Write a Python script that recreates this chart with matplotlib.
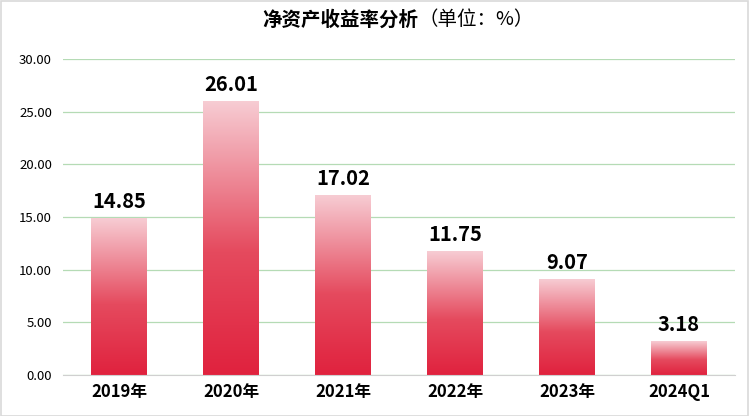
import numpy as np
import matplotlib.pyplot as plt
from matplotlib.colors import LinearSegmentedColormap
from matplotlib.patches import Rectangle

plt.rcParams['font.family'] = ['Noto Sans CJK SC', 'DejaVu Sans']

categories = ['2019年', '2020年', '2021年', '2022年', '2023年', '2024Q1']
values = [14.85, 26.01, 17.02, 11.75, 9.07, 3.18]
yticks = [0, 5, 10, 15, 20, 25, 30]

fig = plt.figure(figsize=(7.49, 4.16), dpi=100)
ax = fig.add_axes([63 / 749, 41 / 416, 672 / 749, 316 / 416])

cmap = LinearSegmentedColormap.from_list(
    'bar', [(0, '#e0223e'), (0.45, '#e54a5e'), (1, '#f7ccd3')])
grad = np.linspace(0, 1, 256).reshape(-1, 1)
width = 0.5

for i, v in enumerate(values):
    ax.imshow(grad, cmap=cmap, origin='lower', aspect='auto',
              extent=[i - width / 2, i + width / 2, 0, v], zorder=2)
    ax.text(i, v + 0.6, f'{v:.2f}', ha='center', va='bottom',
            fontsize=14.5, fontweight='bold', zorder=3)

ax.set_xlim(-0.5, len(values) - 0.5)
ax.set_ylim(0, 30)
ax.set_yticks(yticks)
ax.set_yticklabels([f'{t:.2f}' for t in yticks], fontsize=9.5)
ax.set_xticks(range(len(categories)))
ax.set_xticklabels(categories, fontsize=12, fontweight='bold')
ax.tick_params(axis='both', length=0, pad=8)
ax.tick_params(axis='x', pad=6)

ax.grid(axis='y', color='#b5dbb5', linewidth=0.9, zorder=0)
ax.set_axisbelow(True)
for s in ['top', 'right', 'left']:
    ax.spines[s].set_visible(False)
ax.spines['bottom'].set_color('#d0d0d0')

fig.text(418 / 749, 0.952, '净资产收益率分析', ha='right', va='center',
         fontsize=14, fontweight='bold')
fig.text(418 / 749, 0.952, '（单位：%）', ha='left', va='center', fontsize=14)

fig.patches.append(Rectangle((0.001, 0.001), 0.997, 0.996, transform=fig.transFigure,
                             fill=False, edgecolor='#d9d9d9', linewidth=1.2))

plt.savefig('out.png', dpi=100)
